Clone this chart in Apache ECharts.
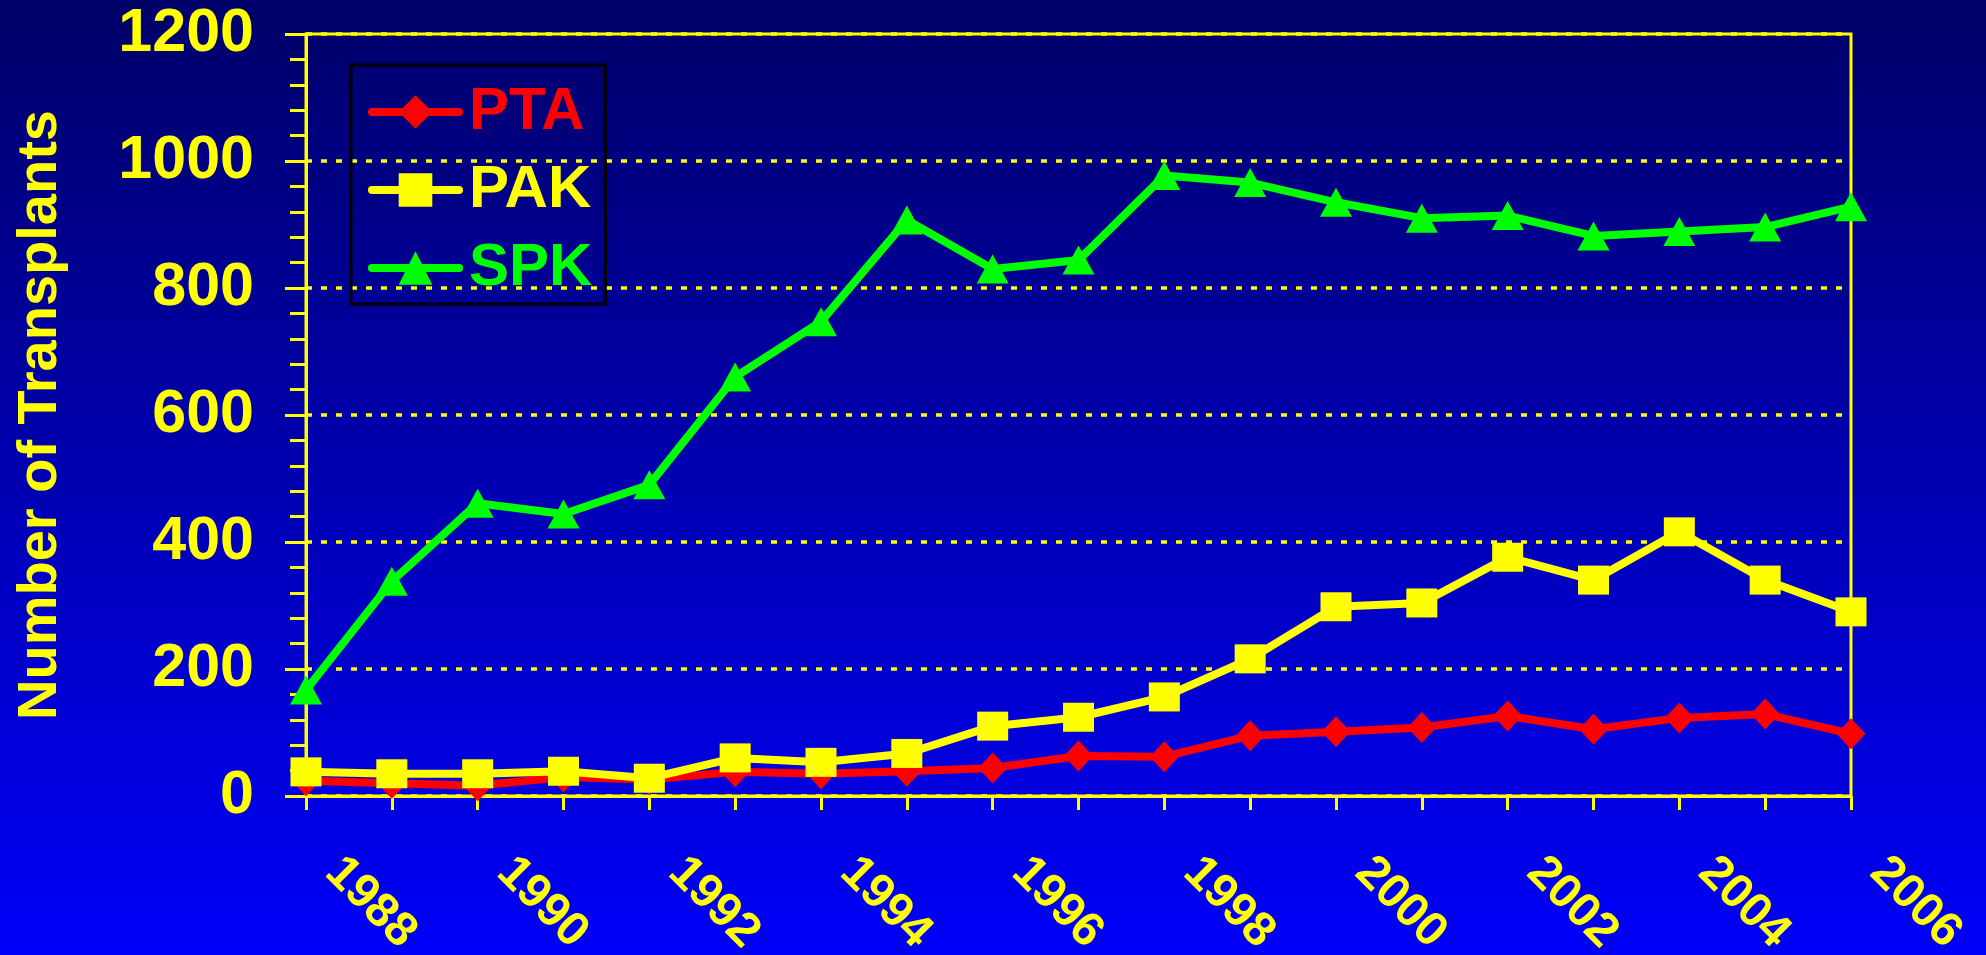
<!DOCTYPE html>
<html>
<head>
<meta charset="utf-8">
<title>Number of Transplants</title>
<script src="https://cdn.jsdelivr.net/npm/echarts@6/dist/echarts.min.js"></script>
<style>
    html, body { margin: 0; padding: 0; background: #000066; }
    #chart { width: 1986px; height: 955px; }
</style>
</head>
<body>
<div id="chart"></div>
<script>
// 年份 (1988 - 2006)
const years = ['1988', '1989', '1990', '1991', '1992', '1993', '1994', '1995', '1996', '1997',
               '1998', '1999', '2000', '2001', '2002', '2003', '2004', '2005', '2006'];

// 各类移植数量
const ptaValues = [24, 20, 16, 30, 26, 38, 35, 39, 44, 63, 62, 95, 101, 108, 126, 105, 123, 129, 98];
const pakValues = [38, 35, 35, 39, 28, 60, 53, 67, 110, 124, 156, 216, 298, 304, 376, 340, 416, 340, 290];
const spkValues = [167, 338, 461, 444, 490, 660, 747, 907, 830, 844, 977, 966, 935, 910, 914, 882, 889, 896, 928];

const YELLOW = '#ffff00';
const FONT = '"Liberation Sans", Arial, sans-serif';

const chart = echarts.init(document.getElementById('chart'));

const makeSeries = (name, data, color, symbol, size) => ({
    name: name,
    type: 'line',
    data: data,
    symbol: symbol,
    symbolSize: size,
    showAllSymbol: true,
    lineStyle: { color: color, width: 8 },
    itemStyle: { color: color },
    emphasis: { disabled: true }
});

const option = {
    backgroundColor: {
        type: 'linear', x: 0, y: 0, x2: 0, y2: 1,
        colorStops: [
            { offset: 0, color: '#000068' },
            { offset: 1, color: '#0000fa' }
        ]
    },
    animation: false,
    grid: {
        left: 306, right: 135, top: 34, bottom: 159,
        outerBoundsMode: 'none', // 固定绘图区, 不因标签溢出而缩小
        show: true,
        borderColor: YELLOW,
        borderWidth: 3,
        backgroundColor: 'transparent'
    },
    legend: {
        left: 351,
        top: 65,
        orient: 'vertical',
        backgroundColor: 'transparent',
        borderColor: '#000000',
        borderWidth: 3,
        padding: [17, 13, 6, 17],
        itemWidth: 87,
        itemHeight: 42,
        itemGap: 18,
        lineStyle: { width: 8, cap: 'round' },
        textStyle: { fontFamily: FONT, fontWeight: 'bold', fontSize: 60, padding: [0, 0, 0, 5] },
        data: [
            { name: 'PTA', textStyle: { color: '#ff0000' } },
            { name: 'PAK', textStyle: { color: YELLOW } },
            { name: 'SPK', textStyle: { color: '#00ff00' } }
        ]
    },
    xAxis: {
        type: 'category',
        data: years,
        boundaryGap: false,
        axisLine: { lineStyle: { color: YELLOW, width: 3 } },
        axisTick: { show: true, interval: 0, length: 14, lineStyle: { color: YELLOW, width: 3 } },
        axisLabel: {
            interval: 1,
            rotate: -45,
            margin: 42,
            padding: [0, 0, 0, 38],
            color: YELLOW,
            fontFamily: FONT,
            fontWeight: 'bold',
            fontSize: 48
        },
        splitLine: { show: false }
    },
    yAxis: {
        type: 'value',
        min: 0,
        max: 1200,
        interval: 200,
        name: 'Number of Transplants',
        nameLocation: 'middle',
        nameRotate: 90,
        nameGap: 237,
        nameTextStyle: { color: YELLOW, fontFamily: FONT, fontWeight: 'bold', fontSize: 56 },
        axisLine: { show: true, lineStyle: { color: YELLOW, width: 3 } },
        axisTick: { show: true, length: 21, lineStyle: { color: YELLOW, width: 3 } },
        minorTick: { show: true, splitNumber: 5, length: 16, lineStyle: { color: YELLOW, width: 3 } },
        axisLabel: {
            margin: 52,
            color: YELLOW,
            fontFamily: FONT,
            fontWeight: 'bold',
            fontSize: 61,
            formatter: (v) => String(v)
        },
        splitLine: { show: true, lineStyle: { color: YELLOW, width: 3.5, type: [6, 9] } }
    },
    series: [
        makeSeries('PTA', ptaValues, '#ff0000', 'diamond', [29, 31]),
        makeSeries('PAK', pakValues, YELLOW, 'rect', [31, 29]),
        makeSeries('SPK', spkValues, '#00ff00', 'triangle', [32, 29])
    ]
};

chart.setOption(option);
</script>
</body>
</html>
